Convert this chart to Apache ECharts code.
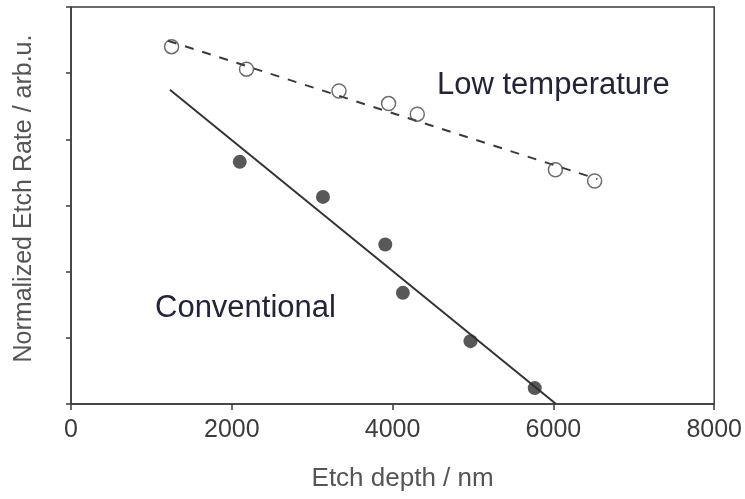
<!DOCTYPE html>
<html><head><meta charset="utf-8">
<script src="https://cdn.jsdelivr.net/npm/echarts@6/dist/echarts.min.js"></script>
<style>html,body{margin:0;padding:0;background:#fff}#c{width:745px;height:499px}</style>
</head><body><div id="c"></div>
<script>
// Low temperature (open circles)
const lowX = [1251, 2183, 3333, 3950, 4307, 6025, 6513];
const lowY = [5.40, 5.06, 4.73, 4.54, 4.38, 3.54, 3.37];
// Low temperature fit line endpoints
const lowFitX = [1205, 6547];
const lowFitY = [5.49, 3.40];
// Conventional (filled circles)
const convX = [2099, 3134, 3909, 4128, 4969, 5768];
const convY = [3.66, 3.13, 2.41, 1.68, 0.95, 0.24];
// Conventional fit line endpoints
const convFitX = [1230, 6033];
const convFitY = [4.75, 0.0];
// Axis ticks
const xTicks = [0, 2000, 4000, 6000, 8000];
const yTicks = [0, 1, 2, 3, 4, 5, 6];

const zip = (a, b) => a.map((v, i) => [v, b[i]]);
const F = 'Liberation Sans, Arial, sans-serif';
const ax = '#3c3c3c';
const chart = echarts.init(document.getElementById('c'));
chart.setOption({
  animation: false,
  backgroundColor: '#fff',
  grid: {left: 71, right: 30, top: 7, bottom: 95, show: true, borderColor: ax, borderWidth: 1.5},
  xAxis: {
    type: 'value', min: xTicks[0], max: xTicks[xTicks.length - 1], interval: 2000,
    name: 'Etch depth / nm', nameLocation: 'middle', nameGap: 62,
    nameTextStyle: {fontFamily: F, fontSize: 26, color: '#555', padding: [0, 0, 0, 20]},
    axisLine: {show: true, lineStyle: {color: ax, width: 1.5}},
    axisTick: {show: true, inside: false, length: 6, lineStyle: {color: ax, width: 1.5}},
    axisLabel: {fontFamily: F, fontSize: 25, color: '#3c3c3c', margin: 14,
                formatter: v => String(v)},
    splitLine: {show: false}
  },
  yAxis: {
    type: 'value', min: yTicks[0], max: yTicks[yTicks.length - 1], interval: 1,
    name: 'Normalized Etch Rate / arb.u.', nameLocation: 'middle', nameGap: 34,
    nameTextStyle: {fontFamily: F, fontSize: 25, color: '#555', padding: [0, 0, 0, 14]},
    axisLine: {show: true, lineStyle: {color: ax, width: 1.5}},
    axisTick: {show: true, inside: false, length: 5, lineStyle: {color: ax, width: 1.5}},
    axisLabel: {show: false},
    splitLine: {show: false}
  },
  series: [
    {type: 'line', data: zip(lowFitX, lowFitY), symbol: 'none', silent: true,
     lineStyle: {color: '#3a3a3a', width: 2, type: [9, 9]}, z: 2},
    {type: 'line', data: zip(convFitX, convFitY), symbol: 'none', silent: true,
     lineStyle: {color: '#333', width: 2}, z: 2},
    {type: 'scatter', data: zip(lowX, lowY), symbol: 'circle', symbolSize: 14,
     itemStyle: {color: 'rgba(255,255,255,0)', borderColor: '#4a4a4a', borderWidth: 1.5}, z: 3},
    {type: 'scatter', data: zip(convX, convY), symbol: 'circle', symbolSize: 14,
     itemStyle: {color: '#2e2e2e'}, z: 3}
  ],
  graphic: [
    {type: 'text', left: 437, top: 70, style: {text: 'Low temperature', font: '31px ' + F, fill: '#23233a'}},
    {type: 'text', left: 155, top: 293, style: {text: 'Conventional', font: '31px ' + F, fill: '#23233a'}}
  ]
});
</script></body></html>
